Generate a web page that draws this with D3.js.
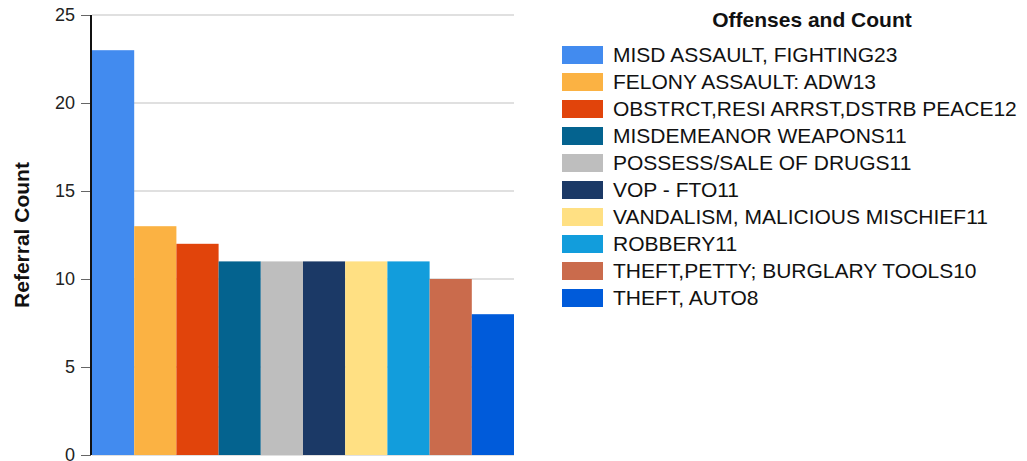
<!DOCTYPE html>
<html>
<head>
<meta charset="utf-8">
<title>Offenses and Count</title>
<script src="https://cdn.jsdelivr.net/npm/d3@7"></script>
<style>
body { margin: 0; background: #fff; font-family: Arial, "Liberation Sans", sans-serif; }
.tick text { font-size: 18px; fill: #222; font-family: Arial, "Liberation Sans", sans-serif; }
.legTxt { font-size: 21px; fill: #111; }
</style>
</head>
<body>
<script>
// chart data
var offenses = ["MISD ASSAULT, FIGHTING", "FELONY ASSAULT: ADW", "OBSTRCT,RESI ARRST,DSTRB PEACE",
  "MISDEMEANOR WEAPONS", "POSSESS/SALE OF DRUGS", "VOP - FTO", "VANDALISM, MALICIOUS MISCHIEF",
  "ROBBERY", "THEFT,PETTY; BURGLARY TOOLS", "THEFT, AUTO"];
var counts = [23, 13, 12, 11, 11, 11, 11, 11, 10, 8];
var colors = ["#428BEF", "#FBB243", "#E1440B", "#04638F", "#BEBEBE", "#1B3966", "#FFE083", "#129DDC", "#CA6B4C", "#005BDA"];
var yTicks = [0, 5, 10, 15, 20, 25];

var w = 1027, h = 461;
var svg = d3.select("body").append("svg").attr("width", w).attr("height", h);

var x0 = 92, x1 = 514, yTop = 15, yBot = 455;

var x = d3.scaleBand().domain(offenses).range([x0, x1]).padding(0);
var y = d3.scaleLinear().domain([0, 25]).range([yBot, yTop]);

// grid lines
svg.append("g").selectAll("line").data(yTicks).enter().append("line")
  .attr("x1", x0).attr("x2", x1)
  .attr("y1", function(d){ return y(d); }).attr("y2", function(d){ return y(d); })
  .attr("stroke", "#e0e0e0").attr("stroke-width", 2);

// bars
svg.append("g").selectAll("rect").data(offenses).enter().append("rect")
  .attr("x", function(d){ return x(d); })
  .attr("width", x.bandwidth())
  .attr("y", function(d, i){ return y(counts[i]); })
  .attr("height", function(d, i){ return yBot - y(counts[i]); })
  .attr("fill", function(d, i){ return colors[i]; });

// y axis
var yAxis = d3.axisLeft(y).tickValues(yTicks).tickSize(10).tickPadding(6);
var ga = svg.append("g").attr("transform", "translate(" + (x0 - 1) + ",0)").call(yAxis);
ga.select(".domain").remove();
ga.selectAll(".tick line").attr("stroke", "#666");
ga.selectAll(".tick text").attr("dy", "0.28em");
svg.append("line").attr("x1", x0 - 1).attr("x2", x0 - 1).attr("y1", yTop).attr("y2", yBot)
  .attr("stroke", "#111").attr("stroke-width", 2);

svg.append("text")
  .attr("transform", "translate(29," + ((yTop + yBot) / 2) + ") rotate(-90)")
  .attr("text-anchor", "middle")
  .attr("font-size", "21px").attr("font-weight", "bold").attr("fill", "#111")
  .text("Referral Count");

// legend
var lx = 562, ly = 46, rowH = 27;
svg.append("text")
  .attr("x", 812).attr("y", 27)
  .attr("text-anchor", "middle")
  .attr("font-size", "21px").attr("font-weight", "bold").attr("fill", "#111")
  .text("Offenses and Count");

var leg = svg.append("g").selectAll("g").data(offenses).enter().append("g")
  .attr("transform", function(d, i){ return "translate(" + lx + "," + (ly + i * rowH) + ")"; });
leg.append("rect").attr("width", 41).attr("height", 18)
  .attr("fill", function(d, i){ return colors[i]; });
leg.append("text").attr("class", "legTxt")
  .attr("x", 51).attr("y", 16)
  .text(function(d, i){ return d + counts[i]; });
</script>
</body>
</html>
